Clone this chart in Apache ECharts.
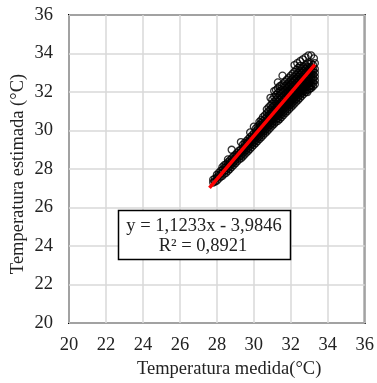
<!DOCTYPE html>
<html>
<head>
<meta charset="utf-8">
<script src="https://cdn.jsdelivr.net/npm/echarts@6/dist/echarts.min.js"></script>
<style>
  html, body { margin: 0; padding: 0; background: #fff; }
  #divChart { width: 377px; height: 383px; }
</style>
</head>
<body>
<div id="divChart"></div>
<script>
// eixos
var xTicks = [20, 22, 24, 26, 28, 30, 32, 34, 36];
var yTicks = [20, 22, 24, 26, 28, 30, 32, 34, 36];

// temperatura medida (colunas) e estimada (valores de cada coluna)
var medida = [27.8, 27.9, 28.0, 28.1, 28.2, 28.3, 28.4, 28.5, 28.6, 28.7,
  28.8, 28.9, 29.0, 29.1, 29.2, 29.3, 29.4, 29.5, 29.6, 29.7,
  29.8, 29.9, 30.0, 30.1, 30.2, 30.3, 30.4, 30.5, 30.6, 30.7,
  30.8, 30.9, 31.0, 31.1, 31.2, 31.3, 31.4, 31.5, 31.6, 31.7,
  31.8, 31.9, 32.0, 32.1, 32.2, 32.3, 32.4, 32.5, 32.6, 32.7,
  32.8, 32.9, 33.0, 33.1, 33.2, 33.3];
var estimada = [
  [27.3, 27.45],
  [27.35, 27.5],
  [27.4, 27.55, 27.7],
  [27.5, 27.65, 27.8],
  [27.6, 27.75, 27.9],
  [27.65, 27.8, 27.95, 28.1],
  [27.75, 27.9, 28.05, 28.2],
  [27.8, 27.95, 28.1, 28.25],
  [27.9, 28.05, 28.2, 28.35],
  [28.0, 28.15, 28.3, 28.45],
  [28.1, 28.25, 28.4, 28.55],
  [28.2, 28.35, 28.5, 28.65],
  [28.3, 28.45, 28.6, 28.75],
  [28.4, 28.55, 28.7, 28.85],
  [28.5, 28.65, 28.8, 28.95],
  [28.55, 28.7, 28.85, 29.0],
  [28.65, 28.8, 28.95, 29.1, 29.25],
  [28.75, 28.9, 29.05, 29.2, 29.35],
  [28.85, 29.0, 29.15, 29.3, 29.45],
  [28.95, 29.1, 29.25, 29.4, 29.55],
  [29.05, 29.2, 29.35, 29.5, 29.65],
  [29.15, 29.3, 29.45, 29.6, 29.75],
  [29.25, 29.4, 29.55, 29.7, 29.85],
  [29.35, 29.5, 29.65, 29.8, 29.95, 30.1],
  [29.45, 29.6, 29.75, 29.9, 30.05, 30.2],
  [29.55, 29.7, 29.85, 30.0, 30.15, 30.3, 30.45],
  [29.65, 29.8, 29.95, 30.1, 30.25, 30.4, 30.55],
  [29.75, 29.9, 30.05, 30.2, 30.35, 30.5, 30.7],
  [29.85, 30.0, 30.15, 30.3, 30.45, 30.6, 30.8],
  [29.95, 30.1, 30.25, 30.4, 30.55, 30.7, 30.9, 31.1],
  [30.05, 30.2, 30.35, 30.5, 30.65, 30.8, 31.0, 31.2],
  [30.15, 30.3, 30.45, 30.6, 30.75, 30.9, 31.1, 31.3],
  [30.25, 30.4, 30.55, 30.7, 30.85, 31.0, 31.2, 31.4, 31.6],
  [30.35, 30.5, 30.65, 30.8, 30.95, 31.1, 31.3, 31.5, 31.75],
  [30.45, 30.6, 30.75, 30.9, 31.05, 31.2, 31.4, 31.6, 31.85, 32.1],
  [30.5, 30.65, 30.8, 30.95, 31.1, 31.3, 31.5, 31.7, 31.95, 32.2],
  [30.6, 30.75, 30.9, 31.05, 31.2, 31.4, 31.6, 31.8, 32.05, 32.3],
  [30.7, 30.85, 31.0, 31.15, 31.3, 31.5, 31.7, 31.9, 32.1, 32.35],
  [30.8, 30.95, 31.1, 31.25, 31.4, 31.6, 31.8, 32.0, 32.2, 32.45],
  [30.9, 31.05, 31.2, 31.35, 31.5, 31.7, 31.9, 32.1, 32.3, 32.55],
  [31.0, 31.15, 31.3, 31.45, 31.6, 31.8, 32.0, 32.2, 32.4, 32.65],
  [31.1, 31.25, 31.4, 31.55, 31.7, 31.9, 32.1, 32.3, 32.5, 32.75],
  [31.2, 31.35, 31.5, 31.65, 31.8, 32.0, 32.2, 32.4, 32.6, 32.85],
  [31.3, 31.45, 31.6, 31.75, 31.9, 32.1, 32.3, 32.5, 32.7, 32.95],
  [31.4, 31.55, 31.7, 31.85, 32.0, 32.2, 32.4, 32.6, 32.8, 33.05],
  [31.5, 31.65, 31.8, 31.95, 32.1, 32.3, 32.5, 32.7, 32.9, 33.15],
  [31.6, 31.75, 31.9, 32.05, 32.2, 32.4, 32.6, 32.8, 33.0, 33.25],
  [31.7, 31.85, 32.0, 32.15, 32.3, 32.5, 32.7, 32.9, 33.1, 33.35],
  [31.8, 31.95, 32.1, 32.25, 32.4, 32.6, 32.8, 33.0, 33.2],
  [31.9, 32.05, 32.2, 32.35, 32.5, 32.7, 32.9, 33.1, 33.3],
  [32.0, 32.15, 32.3, 32.45, 32.6, 32.8, 33.0, 33.2, 33.4],
  [32.1, 32.25, 32.4, 32.55, 32.7, 32.9, 33.1, 33.3, 33.5],
  [32.15, 32.3, 32.45, 32.6, 32.75, 32.9, 33.05, 33.25, 33.45],
  [32.2, 32.35, 32.5, 32.65, 32.8, 32.95, 33.1, 33.3, 33.5],
  [32.3, 32.45, 32.6, 32.75, 32.9, 33.05, 33.2, 33.4],
  [32.4, 32.6, 32.8, 33.0, 33.2, 33.5]
];

// pontos soltos acima da nuvem
var outliers = [[28.6, 28.5], [28.8, 29.0], [29.3, 29.4], [29.8, 29.9], [30.0, 30.2],
  [30.9, 31.7], [31.1, 32.05], [31.3, 32.5], [31.55, 32.85], [32.2, 33.4],
  [32.35, 33.5], [32.5, 33.6], [32.65, 33.7], [32.8, 33.8], [32.95, 33.9],
  [33.1, 33.9], [33.25, 33.75], [32.9, 32.0], [33.05, 32.2]];

// linha de tendência
var trendX = [27.6, 33.3];
var trendY = [27.02, 33.42];

var equacao = 'y = 1,1233x - 3,9846';
var r2 = 'R² = 0,8921';

var pontos = [];
for (var i = 0; i < medida.length; i++) {
  for (var j = 0; j < estimada[i].length; j++) {
    pontos.push([medida[i], estimada[i][j]]);
  }
}
for (var k = 0; k < outliers.length; k++) {
  pontos.push(outliers[k]);
}
var tendencia = [];
for (var t = 0; t < trendX.length; t++) {
  tendencia.push([trendX[t], trendY[t]]);
}

var fonte = '"Liberation Serif", "DejaVu Serif", serif';

var option = {
  backgroundColor: '#fff',
  animation: false,
  grid: {
    left: 69, top: 15, width: 299, height: 308,
    show: true, borderColor: '#000', borderWidth: 2, backgroundColor: '#fff'
  },
  xAxis: [{
    type: 'value', min: xTicks[0], max: xTicks[xTicks.length - 1], interval: 2,
    axisLine: { show: false },
    axisTick: { show: false },
    axisLabel: { fontFamily: fonte, fontSize: 18.5, color: '#222', margin: 13 },
    splitLine: { lineStyle: { color: '#d9d9d9', width: 1.5 } }
  }],
  yAxis: [{
    type: 'value', min: yTicks[0], max: yTicks[yTicks.length - 1], interval: 2,
    axisLine: { show: false },
    axisTick: { show: false },
    axisLabel: { fontFamily: fonte, fontSize: 18.5, color: '#222', margin: 16 },
    splitLine: { lineStyle: { color: '#d9d9d9', width: 1.5 } }
  }],
  series: [{
    type: 'scatter',
    data: pontos,
    symbol: 'circle',
    symbolSize: 7,
    itemStyle: { color: 'rgba(255,255,255,0)', borderColor: '#000', borderWidth: 1.3 },
    z: 2
  }, {
    type: 'line',
    data: tendencia,
    showSymbol: false,
    symbol: 'none',
    lineStyle: { color: '#ff0000', width: 3.5 },
    z: 3
  }],
  graphic: [{
    type: 'text', left: 137, top: 360,
    style: { text: 'Temperatura medida(°C)', font: '18.5px ' + fonte, fill: '#222' }
  }, {
    type: 'text', x: 18, y: 174, rotation: Math.PI / 2,
    style: { text: 'Temperatura estimada (°C)', font: '18.5px ' + fonte, fill: '#222',
      textAlign: 'center', textVerticalAlign: 'middle' }
  }, {
    type: 'rect', shape: { x: 118.5, y: 210.5, width: 172, height: 49 },
    style: { fill: '#fff', stroke: '#000', lineWidth: 1.5 }, z: 10
  }, {
    type: 'text', x: 204, y: 226, z: 11,
    style: { text: equacao, font: '18.5px ' + fonte, fill: '#222',
      textAlign: 'center', textVerticalAlign: 'middle' }
  }, {
    type: 'text', x: 203, y: 246, z: 11,
    style: { text: r2, font: '18.5px ' + fonte, fill: '#222',
      textAlign: 'center', textVerticalAlign: 'middle' }
  }]
};

var divChart = echarts.init(document.getElementById('divChart'));
divChart.setOption(option);
</script>
</body>
</html>
